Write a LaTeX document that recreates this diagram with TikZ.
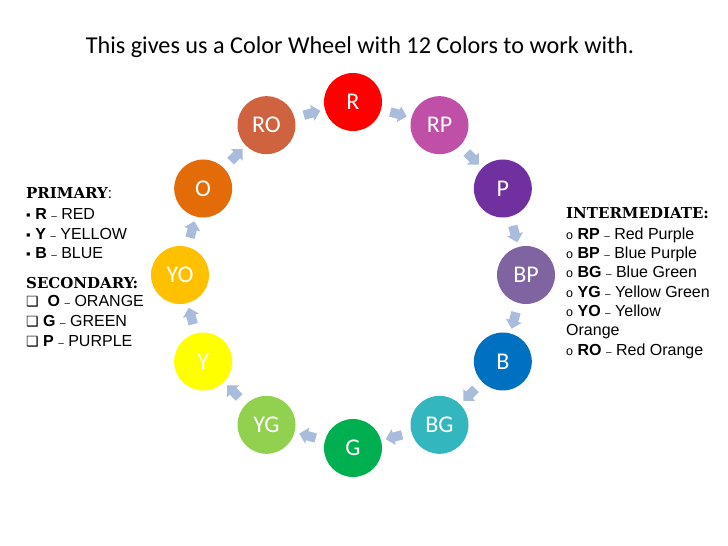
\documentclass[tikz,border=0pt]{standalone}
\usepackage{fontspec}
\setmainfont{Liberation Sans}
\newfontfamily\calibri{Carlito}
\newfontfamily\cabecera{DejaVu Serif}
\newfontfamily\simbolos{DejaVu Sans}
\usetikzlibrary{shapes.arrows}

\definecolor{cR}{HTML}{FF0000}
\definecolor{cRP}{HTML}{C04FA8}
\definecolor{cP}{HTML}{7030A0}
\definecolor{cBP}{HTML}{8064A2}
\definecolor{cB}{HTML}{0070C0}
\definecolor{cBG}{HTML}{33B6BE}
\definecolor{cG}{HTML}{00B050}
\definecolor{cYG}{HTML}{92D050}
\definecolor{cY}{HTML}{FFFF00}
\definecolor{cYO}{HTML}{FFC000}
\definecolor{cO}{HTML}{E36C09}
\definecolor{cRO}{HTML}{D0633F}
\definecolor{cFlecha}{HTML}{A9BCDB}

\newcommand{\guion}{\ {\fontsize{10}{10}\selectfont –}\ }
\newcommand{\cuad}{{\simbolos\fontsize{14}{14}\selectfont ❑}}
\newcommand{\punto}{{\fontsize{13}{13}\selectfont ▪}}
\newcommand{\anillo}{{\fontsize{12.5}{12.5}\selectfont o}}

\begin{document}
\begin{tikzpicture}[x=1pt,y=1pt,
 rueda/.style={circle, minimum size=58pt, inner sep=0pt, text=white,
  font=\calibri\fontsize{24}{24}\selectfont},
 flecha/.style={single arrow, fill=cFlecha, draw=none, inner xsep=0pt,
  inner ysep=4.5pt, minimum height=17pt, single arrow head extend=3.5pt,
  sloped, allow upside down},
 lista/.style={anchor=base west, inner sep=0pt, font=\fontsize{16}{16}\selectfont},
 encabezado/.style={anchor=base west, inner sep=0pt,
  font=\cabecera\bfseries\fontsize{15}{15}\selectfont}]
 \useasboundingbox (0,0) rectangle (728,546);

 % Titulo
 \node[font=\calibri\fontsize{24.2}{24.2}\selectfont] (titulo) at (360,499)
  {This gives us a Color Wheel with 12 Colors to work with.};

 % Circulos de la rueda
 \begin{scope}[shift={(353,271)}]
  \foreach \nm/\ang in {R/90,RP/60,P/30,BP/0,B/-30,BG/-60,G/-90,YG/-120,Y/-150,YO/180,O/150,RO/120}
   \node[rueda, fill=c\nm] (\nm) at (\ang:173) {\nm};
 \end{scope}

 % Flechas entre colores
 \foreach \a/\b in {R/RP,RP/P,P/BP,BP/B,B/BG,BG/G,G/YG,YG/Y,Y/YO,YO/O,O/RO,RO/R}
  \path (\a) -- node[flecha] {} (\b);

 % Primarios y secundarios
 \node[encabezado] (primary) at (26,347.5) {PRIMARY{\mdseries\fontspec{Liberation Sans}:}};
 \node[lista] (pR) at (26,326.5) {\punto\ \textbf{R}\guion RED};
 \node[lista] (pY) at (26,306.5) {\punto\ \textbf{Y}\guion YELLOW};
 \node[lista] (pB) at (26,287.5) {\punto\ \textbf{B}\guion BLUE};
 \node[encabezado] (secondary) at (26,257.5) {SECONDARY:};
 \node[lista] (sO) at (26,239.5) {\cuad\ \ \textbf{O}\guion ORANGE};
 \node[lista] (sG) at (26,219.5) {\cuad\ \textbf{G}\guion GREEN};
 \node[lista] (sP) at (26,199.5) {\cuad\ \textbf{P}\guion PURPLE};

 % Intermedios
 \node[encabezado] (intermediate) at (566,327.5) {INTERMEDIATE:};
 \node[lista] (iRP) at (566,306.5) {\anillo\ \textbf{RP}\guion Red Purple};
 \node[lista] (iBP) at (566,287.5) {\anillo\ \textbf{BP}\guion Blue Purple};
 \node[lista] (iBG) at (566,268.5) {\anillo\ \textbf{BG}\guion Blue Green};
 \node[lista] (iYG) at (566,248.5) {\anillo\ \textbf{YG}\guion Yellow Green};
 \node[lista] (iYO) at (566,229.5) {\anillo\ \textbf{YO}\guion Yellow};
 \node[lista] (iOr) at (566,210.5) {Orange};
 \node[lista] (iRO) at (566,190.5) {\anillo\ \textbf{RO}\guion Red Orange};
\end{tikzpicture}
\end{document}
